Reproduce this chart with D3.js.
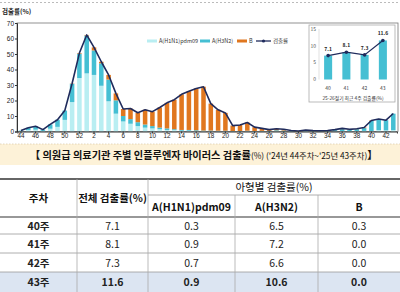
<!DOCTYPE html>
<html>
<head>
<meta charset="utf-8">
<script src="https://cdn.jsdelivr.net/npm/d3@7"></script>
<style>
  body { margin: 0; background: #fff; }
  svg { display: block; font-family: "Noto Sans CJK KR", "Noto Sans", sans-serif; }
</style>
</head>
<body>
<svg class="vis-principal" width="400" height="292"></svg>
<script>
// semanas: '24년 44주 ~ '25년 43주
const semanas = [44, 45, 46, 47, 48, 49, 50, 51, 52,
  1, 2, 3, 4, 5, 6, 7, 8, 9, 10, 11, 12, 13, 14, 15, 16, 17, 18, 19, 20,
  21, 22, 23, 24, 25, 26, 27, 28, 29, 30, 31, 32, 33, 34, 35, 36, 37, 38, 39, 40,
  41, 42, 43];

const h1n1 = [0.2, 0.9, 1.2, 0.4, 1.8, 3.0, 7.5, 19.0, 34.5,
  37.5, 36.5, 29.5, 19.5, 11.5, 6.5, 5.0, 3.5, 2.5, 2.0, 1.5, 1.0, 1.0, 0.5, 0.5, 0.3, 0.3, 0.3, 0.2, 0.2,
  0.1, 0.1, 0.2, 0.1, 0.1, 0.1, 0.2, 0.1, 0.1, 0.0, 0.2, 0.1, 0.1, 0.1, 0.2, 0.3, 0.2, 0.3, 0.4, 0.3,
  0.9, 0.7, 0.9];

const h3n2 = [0.4, 1.5, 2.2, 0.8, 2.8, 4.6, 6.0, 11.8, 15.7,
  24.4, 15.8, 14.5, 14.0, 8.6, 3.5, 3.0, 2.5, 2.0, 1.5, 1.0, 1.0, 0.5, 0.5, 0.5, 0.5, 0.3, 0.3, 0.3, 0.3,
  0.2, 0.2, 0.3, 0.2, 0.3, 0.3, 0.6, 0.5, 0.3, 0.2, 0.5, 0.3, 0.3, 0.3, 0.7, 1.2, 0.9, 1.2, 1.8, 6.5,
  7.2, 6.6, 10.6];

const tipo_b = [0, 0, 0, 0, 0, 0, 0, 0.2, 0.4,
  0.4, 2.0, 1.0, 3.0, 4.5, 4.5, 6.8, 6.1, 9.5, 9.3, 13.0, 16.5, 19.0, 23.0, 25.0, 27.0, 28.3, 17.4, 13.5, 11.5,
  3.5, 3.9, 5.3, 2.5, 1.6, 0.8, 1.0, 0.9, 0.2, 0.1, 0.3, 0.2, 0.1, 0.2, 0.3, 0.5, 0.3, 0.3, 0.4, 0.3,
  0.0, 0.0, 0.0];

const deteccao = [0.6, 2.4, 3.4, 1.2, 4.6, 7.6, 13.5, 31.0, 50.6,
  62.3, 54.3, 45.0, 36.5, 24.6, 14.5, 14.8, 12.1, 14.0, 12.8, 15.5, 18.5, 20.5, 24.0, 26.0, 27.8, 28.9, 18.0, 14.0, 12.0,
  3.8, 4.2, 5.8, 2.8, 2.0, 1.2, 1.8, 1.5, 0.6, 0.3, 1.0, 0.6, 0.5, 0.6, 1.2, 2.0, 1.4, 1.8, 2.6, 7.1,
  8.1, 7.3, 11.6];

const y_ticks = [0, 10, 20, 30, 40, 50, 60, 70];

// inset: 최근 4주
const semanas_rec = ["40", "41", "42", "43"];
const total_rec = [7.1, 8.1, 7.3, 11.6];
const y_ticks_rec = [0, 5, 10, 15];

// tabela
const linhas_tab = ["40주", "41주", "42주", "43주"];
const tab_total = ["7.1", "8.1", "7.3", "11.6"];
const tab_h1n1 = ["0.3", "0.9", "0.7", "0.9"];
const tab_h3n2 = ["6.5", "7.2", "6.6", "10.6"];
const tab_b = ["0.3", "0.0", "0.0", "0.0"];

const cores = { h1n1: "#b9eef2", h3n2: "#45bfd3", b: "#e0771f", linha: "#1f2b5c" };

const svg_prin = d3.select("svg.vis-principal");

const w = 400, h = 292;

// linha tracejada no topo
svg_prin.append("line")
  .attr("x1", 0).attr("x2", w).attr("y1", 2.5).attr("y2", 2.5)
  .attr("stroke", "#bbb").attr("stroke-dasharray", "2,2");

// escalas
const x = d3.scaleBand()
  .domain(semanas)
  .range([17.35, 396.95])
  .paddingInner(0.38)
  .paddingOuter(0.19);

const y = d3.scaleLinear()
  .domain([0, 70])
  .range([131.5, 23]);

// moldura
svg_prin.append("rect")
  .attr("x", 17).attr("y", 23)
  .attr("width", 398 - 17).attr("height", 131.5 - 23)
  .attr("fill", "none").attr("stroke", "#777").attr("stroke-width", 0.8);

// barras empilhadas
const dados = semanas.map((s, i) => ({ semana: s, h1n1: h1n1[i], h3n2: h3n2[i], b: tipo_b[i] }));
const pilha = d3.stack().keys(["h1n1", "h3n2", "b"])(dados);

svg_prin.append("g")
  .selectAll("g")
  .data(pilha)
  .join("g")
    .attr("fill", d => cores[d.key])
  .selectAll("rect")
  .data(d => d)
  .join("rect")
    .attr("x", d => x(d.data.semana))
    .attr("y", d => y(d[1]))
    .attr("width", x.bandwidth())
    .attr("height", d => Math.max(0, y(d[0]) - y(d[1])));

// linha do total
const linha = d3.line()
  .x((d, i) => x(semanas[i]) + x.bandwidth() / 2)
  .y(d => y(d));

svg_prin.append("path")
  .datum(deteccao)
  .attr("d", linha)
  .attr("fill", "none")
  .attr("stroke", cores.linha)
  .attr("stroke-width", 1.6)
  .attr("stroke-linejoin", "round");

// eixos
const eixo_x = d3.axisBottom(x)
  .tickValues(semanas.filter((d, i) => i % 2 === 0))
  .tickSize(2);

svg_prin.append("g")
  .attr("class", "axis x-axis")
  .attr("transform", "translate(0,131.5)")
  .call(eixo_x)
  .call(g => g.select(".domain").attr("stroke", "#333"))
  .call(g => g.selectAll(".tick line").attr("stroke", "#333"))
  .call(g => g.selectAll("text").attr("font-size", 6.3).attr("fill", "#222").attr("dy", "0.55em").attr("y", 3));

const eixo_y = d3.axisLeft(y)
  .tickValues(y_ticks)
  .tickSize(2);

svg_prin.append("g")
  .attr("class", "axis y-axis")
  .attr("transform", "translate(17,0)")
  .call(eixo_y)
  .call(g => g.select(".domain").attr("stroke", "#333"))
  .call(g => g.selectAll(".tick line").attr("stroke", "#333"))
  .call(g => g.selectAll("text").attr("font-size", 6.5).attr("fill", "#222").attr("x", -3));

svg_prin.append("text")
  .attr("x", 2).attr("y", 14)
  .attr("font-size", 6.5).attr("font-weight", "bold").attr("fill", "#222")
  .text("검출률(%)");

// legenda
const legenda = [
  { nome: "A(H1N1)pdm09", cor: cores.h1n1, x: 147 },
  { nome: "A(H3N2)", cor: cores.h3n2, x: 200 },
  { nome: "B", cor: cores.b, x: 237 }
];
const $leg = svg_prin.append("g").attr("font-size", 5.5).attr("fill", "#333");
legenda.forEach(l => {
  $leg.append("rect").attr("x", l.x).attr("y", 39.5).attr("width", 10).attr("height", 3).attr("fill", l.cor);
  $leg.append("text").attr("x", l.x + 12).attr("y", 43).text(l.nome);
});
$leg.append("line").attr("x1", 256).attr("x2", 271).attr("y1", 41).attr("y2", 41)
  .attr("stroke", cores.linha).attr("stroke-width", 1.3);
$leg.append("circle").attr("cx", 263.5).attr("cy", 41).attr("r", 1.6).attr("fill", cores.linha);
$leg.append("text").attr("x", 273).attr("y", 43).text("검출률");

// inset
const ins = svg_prin.append("g");
ins.append("rect")
  .attr("x", 309).attr("y", 25).attr("width", 86).attr("height", 77)
  .attr("fill", "#fff").attr("stroke", "#aaa").attr("stroke-width", 0.8);

const x_rec = d3.scaleBand().domain(semanas_rec).range([319, 392]).paddingInner(0.56).paddingOuter(0.28);
const y_rec = d3.scaleLinear().domain([0, 15]).range([79.5, 29]);

ins.append("line").attr("x1", 319).attr("x2", 319).attr("y1", 29).attr("y2", 79.5)
  .attr("stroke", "#ccc").attr("stroke-width", 0.6);

ins.append("g")
  .selectAll("text")
  .data(y_ticks_rec)
  .join("text")
    .attr("x", 316).attr("y", d => y_rec(d) + 1.8)
    .attr("text-anchor", "end").attr("font-size", 5).attr("fill", "#555")
    .text(d => d);

ins.append("g")
  .selectAll("rect")
  .data(total_rec)
  .join("rect")
    .attr("x", (d, i) => x_rec(semanas_rec[i]))
    .attr("y", d => y_rec(d))
    .attr("width", x_rec.bandwidth())
    .attr("height", d => y_rec(0) - y_rec(d))
    .attr("fill", cores.h3n2);

const linha_rec = d3.line()
  .x((d, i) => x_rec(semanas_rec[i]) + x_rec.bandwidth() / 2)
  .y(d => y_rec(d));

ins.append("path").datum(total_rec).attr("d", linha_rec)
  .attr("fill", "none").attr("stroke", cores.linha).attr("stroke-width", 1.2);

ins.append("g")
  .selectAll("circle")
  .data(total_rec)
  .join("circle")
    .attr("cx", (d, i) => x_rec(semanas_rec[i]) + x_rec.bandwidth() / 2)
    .attr("cy", d => y_rec(d))
    .attr("r", 1.8).attr("fill", cores.linha);

ins.append("g")
  .selectAll("text")
  .data(total_rec)
  .join("text")
    .attr("x", (d, i) => x_rec(semanas_rec[i]) + x_rec.bandwidth() / 2)
    .attr("y", d => y_rec(d) - 5)
    .attr("text-anchor", "middle").attr("font-size", 5).attr("font-weight", "bold").attr("fill", "#222")
    .text(d => d);

ins.append("g")
  .selectAll("text")
  .data(semanas_rec)
  .join("text")
    .attr("x", d => x_rec(d) + x_rec.bandwidth() / 2)
    .attr("y", 90)
    .attr("text-anchor", "middle").attr("font-size", 5).attr("fill", "#444")
    .text(d => d);

ins.append("text")
  .attr("x", 353).attr("y", 99.5)
  .attr("text-anchor", "middle").attr("font-size", 4.8).attr("fill", "#333")
  .text("25-26절기 최근 4주 검출률(%)");

// faixa do título
svg_prin.append("rect")
  .attr("x", 0).attr("y", 144).attr("width", w).attr("height", 21)
  .attr("fill", "#fdf2d8");
svg_prin.append("line")
  .attr("x1", 0).attr("x2", w).attr("y1", 144).attr("y2", 144)
  .attr("stroke", "#d8c9a8").attr("stroke-dasharray", "1.5,1.5").attr("stroke-width", 0.7);

const titulo = svg_prin.append("text")
  .attr("x", 30).attr("y", 158.5)
  .attr("fill", "#111");
titulo.append("tspan").attr("font-size", 10.2).attr("font-weight", "bold")
  .text("【 의원급 의료기관 주별 인플루엔자 바이러스 검출률");
titulo.append("tspan").attr("font-size", 8.3).text("(%) ('24년 44주차~'25년 43주차)");
titulo.append("tspan").attr("font-size", 10.2).attr("font-weight", "bold").text("】");

// tabela
const colunas = [0, 77, 148, 235, 318, 400];
const meio = i => (colunas[i] + colunas[i + 1]) / 2;
const linhas_y = [217, 234, 253, 272, 292];
const tab = svg_prin.append("g").attr("font-size", 10.5).attr("fill", "#111");

tab.append("rect").attr("x", 0).attr("y", 272).attr("width", w).attr("height", 20).attr("fill", "#dce5f2");

// linhas horizontais
tab.append("line").attr("x1", 0).attr("x2", w).attr("y1", 179).attr("y2", 179).attr("stroke", "#333").attr("stroke-width", 1.3);
tab.append("line").attr("x1", 148).attr("x2", w).attr("y1", 195).attr("y2", 195).attr("stroke", "#999").attr("stroke-width", 0.8);
tab.append("line").attr("x1", 0).attr("x2", w).attr("y1", 217).attr("y2", 217).attr("stroke", "#333").attr("stroke-width", 1.2);
[234, 253, 272].forEach(yy => {
  tab.append("line").attr("x1", 0).attr("x2", w).attr("y1", yy).attr("y2", yy).attr("stroke", "#999").attr("stroke-width", 0.8);
});
// linhas verticais
[77, 148].forEach(xx => {
  tab.append("line").attr("x1", xx).attr("x2", xx).attr("y1", 179).attr("y2", 292).attr("stroke", "#aaa").attr("stroke-width", 0.8);
});
[235, 318].forEach(xx => {
  tab.append("line").attr("x1", xx).attr("x2", xx).attr("y1", 195).attr("y2", 292).attr("stroke", "#aaa").attr("stroke-width", 0.8);
});

const cabecalho = [
  { t: "주차", x: meio(0), y: 202, b: true },
  { t: "전체 검출률(%)", x: meio(1), y: 202, b: true },
  { t: "아형별 검출률(%)", x: (148 + 400) / 2, y: 191, b: false },
  { t: "A(H1N1)pdm09", x: meio(2), y: 210.5, b: true },
  { t: "A(H3N2)", x: meio(3), y: 210.5, b: true },
  { t: "B", x: meio(4), y: 210.5, b: true }
];
tab.selectAll("text.cab")
  .data(cabecalho)
  .join("text")
    .attr("class", "cab")
    .attr("x", d => d.x).attr("y", d => d.y)
    .attr("text-anchor", "middle")
    .attr("font-weight", d => d.b ? "bold" : "normal")
    .text(d => d.t);

linhas_tab.forEach((l, i) => {
  const yy = (linhas_y[i] + linhas_y[i + 1]) / 2 + 4;
  const ultima = i === linhas_tab.length - 1;
  const valores = [l, tab_total[i], tab_h1n1[i], tab_h3n2[i], tab_b[i]];
  valores.forEach((v, j) => {
    tab.append("text")
      .attr("x", meio(j)).attr("y", yy)
      .attr("text-anchor", "middle")
      .attr("font-weight", (j === 0 || ultima) ? "bold" : "normal")
      .attr("fill", "#222")
      .text(v);
  });
});
</script>
</body>
</html>
